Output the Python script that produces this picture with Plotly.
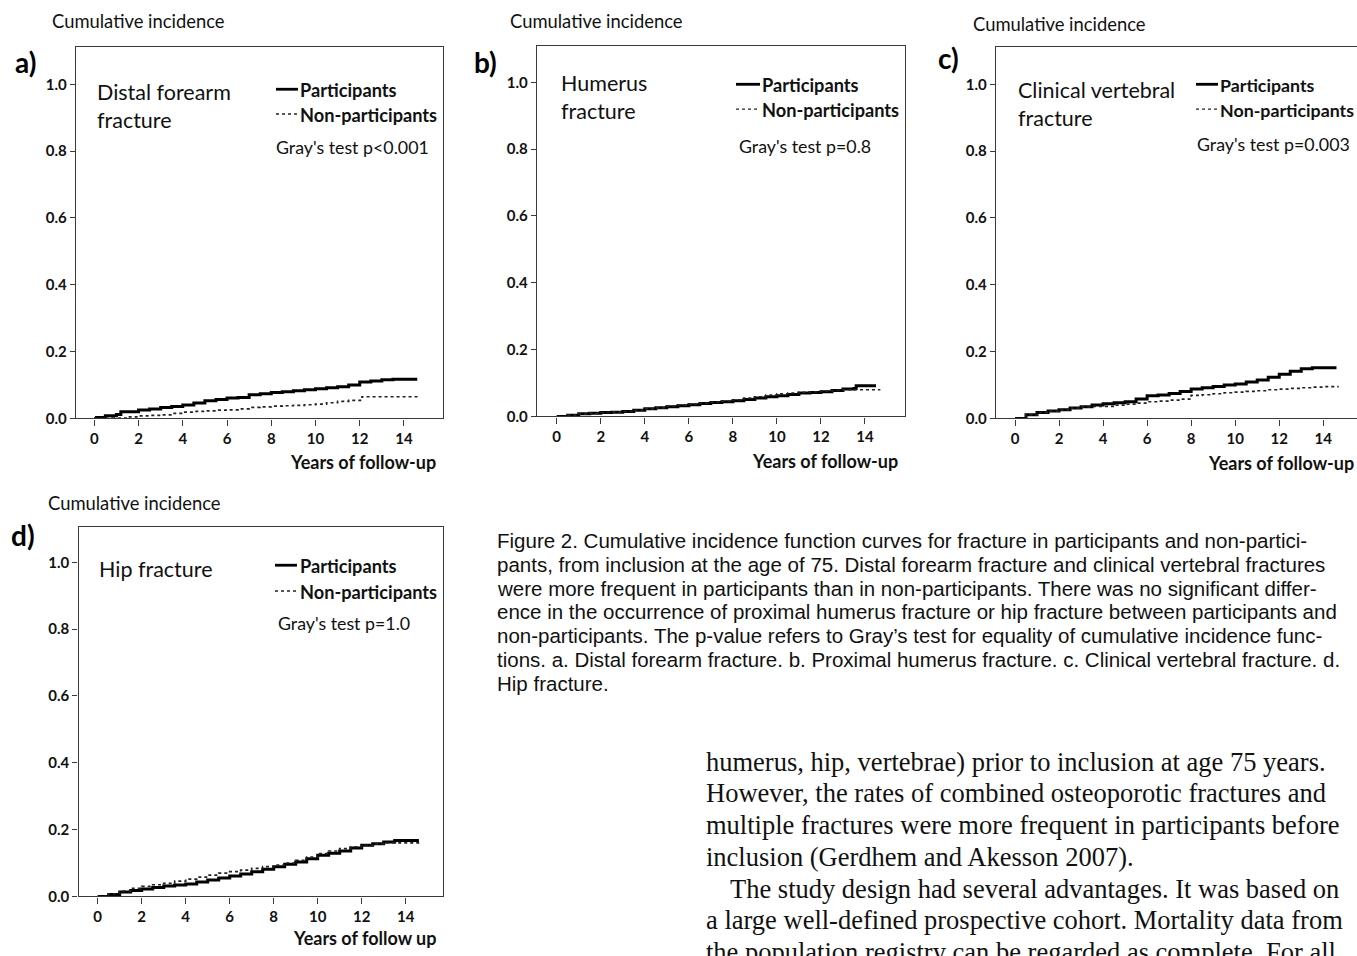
import plotly.graph_objects as go

W, H = 1357, 956

# ---------------- data ----------------
a_part_t = [0.0, 0.1, 0.5, 1.0, 1.2, 2, 2.5, 3, 3.5, 4, 4.5, 5, 5.5, 6, 6.5, 7, 7.5, 8, 8.5, 9, 9.5, 10, 10.5, 11, 11.5, 12, 12.5, 13, 13.5, 14, 14.6]
a_part_v = [0.0, 0.003, 0.008, 0.012, 0.020, 0.025, 0.028, 0.033, 0.036, 0.040, 0.046, 0.053, 0.057, 0.061, 0.063, 0.071, 0.074, 0.078, 0.080, 0.083, 0.086, 0.089, 0.092, 0.095, 0.100, 0.109, 0.112, 0.116, 0.117, 0.117, 0.117]
a_non_t = [0.0, 0.8, 1.5, 2, 2.5, 3, 3.5, 4, 4.5, 5, 5.5, 6, 6.5, 7, 7.5, 8, 8.5, 9, 9.5, 10, 10.5, 11, 11.5, 12.1, 13, 14, 14.7]
a_non_v = [0.0, 0.001, 0.005, 0.008, 0.009, 0.011, 0.015, 0.019, 0.021, 0.023, 0.025, 0.026, 0.029, 0.033, 0.035, 0.037, 0.038, 0.039, 0.041, 0.043, 0.047, 0.051, 0.054, 0.065, 0.065, 0.065, 0.065]

b_part_t = [0, 0.5, 1, 1.5, 2, 2.5, 3, 3.5, 4, 4.5, 5, 5.5, 6, 6.5, 7, 7.5, 8, 8.5, 9, 9.5, 10, 10.5, 11, 11.5, 12, 12.5, 13, 13.5, 13.6, 14.5]
b_part_v = [0, 0.004, 0.008, 0.010, 0.012, 0.013, 0.015, 0.019, 0.023, 0.026, 0.029, 0.032, 0.035, 0.039, 0.042, 0.044, 0.047, 0.051, 0.055, 0.059, 0.062, 0.066, 0.070, 0.072, 0.074, 0.078, 0.082, 0.084, 0.092, 0.092]
b_non_t = [0, 0.5, 1, 1.5, 2, 2.5, 3, 3.5, 4, 4.5, 5, 5.5, 6, 6.5, 7, 7.5, 8, 8.5, 9, 9.5, 10, 10.5, 11, 11.5, 12, 12.5, 13, 13.5, 14, 14.5, 14.7]
b_non_v = [0, 0.004, 0.008, 0.010, 0.012, 0.013, 0.015, 0.019, 0.023, 0.026, 0.031, 0.034, 0.037, 0.040, 0.043, 0.046, 0.050, 0.055, 0.059, 0.064, 0.068, 0.070, 0.072, 0.074, 0.076, 0.078, 0.080, 0.080, 0.080, 0.080, 0.080]

c_part_t = [0, 0.5, 1, 1.5, 2, 2.5, 3, 3.5, 4, 4.5, 5, 5.5, 6, 6.5, 7, 7.5, 8, 8.5, 9, 9.5, 10, 10.5, 11, 11.5, 12, 12.5, 13, 13.5, 14, 14.5, 14.6]
c_part_v = [0, 0.011, 0.018, 0.022, 0.026, 0.031, 0.035, 0.040, 0.044, 0.047, 0.050, 0.058, 0.068, 0.070, 0.075, 0.081, 0.088, 0.092, 0.096, 0.100, 0.103, 0.109, 0.115, 0.123, 0.132, 0.141, 0.149, 0.152, 0.152, 0.152, 0.152]
c_non_t = [0, 0.5, 1, 1.5, 2, 2.5, 3, 3.5, 4, 4.5, 5, 5.5, 6, 6.5, 7, 7.5, 8, 8.5, 9, 9.5, 10, 10.5, 11, 11.5, 12, 12.5, 13, 13.5, 14, 14.5, 14.7]
c_non_v = [0, 0.011, 0.018, 0.022, 0.026, 0.031, 0.035, 0.036, 0.036, 0.040, 0.043, 0.046, 0.050, 0.052, 0.055, 0.058, 0.069, 0.071, 0.074, 0.077, 0.079, 0.081, 0.083, 0.086, 0.088, 0.090, 0.092, 0.094, 0.095, 0.095, 0.095]

d_part_t = [0, 0.5, 1, 1.5, 2, 2.5, 3, 3.5, 4, 4.5, 5, 5.5, 6, 6.5, 7, 7.5, 8, 8.5, 9, 9.5, 10, 10.5, 11, 11.5, 12, 12.5, 13, 13.5, 14, 14.5, 14.6]
d_part_v = [0, 0.006, 0.013, 0.018, 0.022, 0.027, 0.031, 0.034, 0.037, 0.043, 0.049, 0.055, 0.061, 0.067, 0.074, 0.081, 0.089, 0.096, 0.103, 0.113, 0.123, 0.129, 0.136, 0.145, 0.153, 0.158, 0.163, 0.167, 0.167, 0.167, 0.167]
d_non_t = [0, 0.5, 1, 1.5, 2, 2.5, 3, 3.5, 4, 4.5, 5, 5.5, 6, 6.5, 7, 7.5, 8, 8.5, 9, 9.5, 10, 10.5, 11, 11.5, 12, 12.5, 13, 13.5, 14, 14.5, 14.7]
d_non_v = [0, 0.008, 0.016, 0.024, 0.030, 0.035, 0.039, 0.046, 0.052, 0.058, 0.064, 0.070, 0.074, 0.079, 0.084, 0.089, 0.094, 0.100, 0.108, 0.118, 0.128, 0.136, 0.143, 0.148, 0.153, 0.157, 0.160, 0.160, 0.160, 0.160, 0.160]

x_ticks = [0, 2, 4, 6, 8, 10, 12, 14]
y_ticks = [0.0, 0.2, 0.4, 0.6, 0.8, 1.0]
panel_letters = ["a)", "b)", "c)", "d)"]
panel_titles = [["Distal forearm", "fracture"], ["Humerus", "fracture"], ["Clinical vertebral", "fracture"], ["Hip fracture"]]
gray_tests = ["Gray's test p<0.001", "Gray's test p=0.8", "Gray's test p=0.003", "Gray's test p=1.0"]
x_titles = ["Years of follow-up", "Years of follow-up", "Years of follow-up", "Years of follow up"]
y_title = "Cumulative incidence"
legend_names = ["Participants", "Non-participants"]

caption_lines = [
    "Figure 2. Cumulative incidence function curves for fracture in participants and non-partici-",
    "pants, from inclusion at the age of 75. Distal forearm fracture and clinical vertebral fractures",
    "were more frequent in participants than in non-participants. There was no significant differ-",
    "ence in the occurrence of proximal humerus fracture or hip fracture between participants and",
    "non-participants. The p-value refers to Gray\u2019s test for equality of cumulative incidence func-",
    "tions. a. Distal forearm fracture. b. Proximal humerus fracture. c. Clinical vertebral fracture. d.",
    "Hip fracture.",
]
body_lines = [
    "humerus, hip, vertebrae) prior to inclusion at age 75 years.",
    "However, the rates of combined osteoporotic fractures and",
    "multiple fractures were more frequent in participants before",
    "inclusion (Gerdhem and Akesson 2007).",
    "The study design had several advantages. It was based on",
    "a large well-defined prospective cohort. Mortality data from",
    "the population registry can be regarded as complete. For all",
]

# ---------------- layout geometry (pixels) ----------------
def fx(p):
    return p / W

def fy(p):
    return 1 - p / H

panels = [
    dict(t=(a_part_t, a_part_v, a_non_t, a_non_v), box=(76, 443, 47, 422), x0=94.3, ppx=22.12, ppy=337, mirror_y=True,
         letter=(13, 63), ylab=(50, 21), title=(95, 93), leg=(276, 298, 90, 115, 298), gray=(274, 148), xt=(438, 466), lsz=18.2),
    dict(t=(b_part_t, b_part_v, b_non_t, b_non_v), box=(537, 905, 46, 420), x0=556.7, ppx=22.02, ppy=337, mirror_y=True,
         letter=(472, 63), ylab=(508, 21), title=(559, 84), leg=(736, 760, 85, 110, 760), gray=(737, 147), xt=(900, 465), lsz=18.2),
    dict(t=(c_part_t, c_part_v, c_non_t, c_non_v), box=(996, 1357, 47, 422), x0=1015, ppx=22.02, ppy=337, mirror_y=False,
         letter=(936, 58), ylab=(971, 24), title=(1016, 91), leg=(1196, 1218, 85, 110, 1218), gray=(1195, 145), xt=(1356, 467), lsz=17.8),
    dict(t=(d_part_t, d_part_v, d_non_t, d_non_v), box=(78.5, 442.5, 531.5, 904), x0=97.7, ppx=22.0, ppy=337, mirror_y=True,
         letter=(9, 540), ylab=(46, 507), title=(97, 574), leg=(275, 297, 570, 596, 298), gray=(276, 628), xt=(438, 946), lsz=18.2),
]

FONT = "Lato, 'Open Sans', sans-serif"
AXC = "#3a3a3a"

fig = go.Figure()
annotations = []
shapes = []
layout_axes = {}

for i, p in enumerate(panels):
    n = "" if i == 0 else str(i + 1)
    xa, ya = "x" + n, "y" + n
    pt, pv, nt, nv = p["t"]
    fig.add_trace(go.Scatter(x=pt, y=pv, mode="lines", line=dict(color="black", width=3, shape="hv"),
                             xaxis=xa, yaxis=ya, showlegend=False, name=legend_names[0]))
    fig.add_trace(go.Scatter(x=nt, y=nv, mode="lines", line=dict(color="#222", width=1.7, dash="dot", shape="hv"),
                             xaxis=xa, yaxis=ya, showlegend=False, name=legend_names[1]))
    bx0, bx1, by0, by1 = p["box"]
    xr = [(bx0 - p["x0"]) / p["ppx"], (bx1 - p["x0"]) / p["ppx"]]
    yr = [0, (by1 - by0) / p["ppy"]]
    layout_axes["xaxis" + n] = dict(
        domain=[fx(bx0), fx(bx1)], range=xr, anchor=ya, tickvals=x_ticks, ticks="outside", ticklen=6,
        tickcolor=AXC, showline=True, linecolor=AXC, linewidth=1.4, mirror=True, showgrid=False, zeroline=False,
        tickfont=dict(family=FONT, size=15, color="#111", weight="bold"),
    )
    layout_axes["yaxis" + n] = dict(
        domain=[fy(by1), fy(by0)], range=yr, anchor=xa, tickvals=y_ticks, tickformat=".1f", ticks="outside",
        ticklen=5, tickcolor=AXC, showline=True, linecolor=AXC, linewidth=1.4, mirror=p["mirror_y"],
        showgrid=False, zeroline=False, tickfont=dict(family=FONT, size=15, color="#111", weight="bold"),
    )
    lx, ly = p["letter"]
    annotations.append(dict(text=panel_letters[i], x=fx(lx), y=fy(ly), xref="paper", yref="paper",
                            xanchor="left", yanchor="middle", showarrow=False,
                            font=dict(family=FONT, size=28, color="black", weight="bold")))
    yx, yy = p["ylab"]
    annotations.append(dict(text=y_title, x=fx(yx), y=fy(yy), xref="paper", yref="paper",
                            xanchor="left", yanchor="middle", showarrow=False,
                            font=dict(family=FONT, size=18.4, color="#111")))
    tx, ty = p["title"]
    for k, line in enumerate(panel_titles[i]):
        annotations.append(dict(text=line, x=fx(tx), y=fy(ty + 28 * k), xref="paper", yref="paper",
                                xanchor="left", yanchor="middle", showarrow=False,
                                font=dict(family=FONT, size=21.5, color="#111")))
    s0, s1, l1, l2, ltx = p["leg"]
    shapes.append(dict(type="line", xref="paper", yref="paper", x0=fx(s0), x1=fx(s1), y0=fy(l1), y1=fy(l1),
                       line=dict(color="black", width=2.8)))
    shapes.append(dict(type="line", xref="paper", yref="paper", x0=fx(s0), x1=fx(s1), y0=fy(l2), y1=fy(l2),
                       line=dict(color="#222", width=1.4, dash="dot")))
    for k, (name, yy2) in enumerate(zip(legend_names, (l1, l2))):
        annotations.append(dict(text=name, x=fx(ltx), y=fy(yy2 + 1), xref="paper", yref="paper",
                                xanchor="left", yanchor="middle", showarrow=False,
                                font=dict(family=FONT, size=p["lsz"], color="#111", weight="bold")))
    gx, gy = p["gray"]
    annotations.append(dict(text=gray_tests[i], x=fx(gx), y=fy(gy), xref="paper", yref="paper",
                            xanchor="left", yanchor="middle", showarrow=False,
                            font=dict(family=FONT, size=17.8, color="#111")))
    xtx, xty = p["xt"]
    annotations.append(dict(text=x_titles[i], x=fx(xtx), y=fy(xty), xref="paper", yref="paper",
                            xanchor="right", yanchor="middle", showarrow=False,
                            font=dict(family=FONT, size=18, color="#111", weight="bold")))

# caption
for k, line in enumerate(caption_lines):
    annotations.append(dict(text=line, x=fx(495), y=fy(545 + 24 * k), xref="paper", yref="paper",
                            xanchor="left", yanchor="middle", showarrow=False,
                            font=dict(family="'Liberation Sans', Arial, sans-serif", size=20.5, color="#111")))
# body text
for k, line in enumerate(body_lines):
    indent = 24 if k == 4 else 0
    annotations.append(dict(text=line, x=fx(704 + indent), y=fy(768 + 32 * k), xref="paper", yref="paper",
                            xanchor="left", yanchor="middle", showarrow=False,
                            font=dict(family="'Liberation Serif', 'DejaVu Serif', serif", size=26.5, color="#111")))

fig.update_layout(
    width=W, height=H, margin=dict(l=0, r=0, t=0, b=0),
    paper_bgcolor="white", plot_bgcolor="white",
    annotations=annotations, shapes=shapes, showlegend=False,
    **layout_axes,
)

fig.write_html("out.html", config={"displayModeBar": False},
               post_script="document.body.style.margin='0';document.body.style.overflow='hidden';")
